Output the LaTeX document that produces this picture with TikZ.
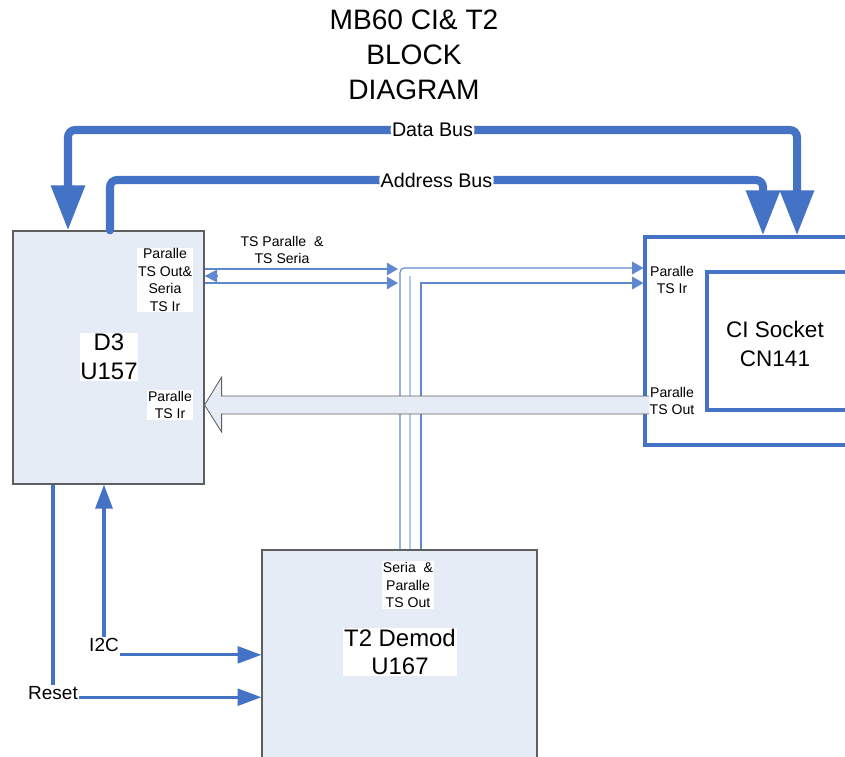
\documentclass[tikz,border=0pt]{standalone}
\usepackage{fontspec}
\setmainfont{Liberation Sans}
\usetikzlibrary{arrows.meta,positioning}
\definecolor{busblue}{RGB}{68,114,196}
\definecolor{tsblue}{RGB}{96,136,206}
\definecolor{tslight}{RGB}{178,200,236}
\definecolor{boxfill}{RGB}{230,236,246}
\definecolor{boxline}{RGB}{95,95,95}

\begin{document}
\begin{tikzpicture}[x=0.025cm, y=-0.025cm,
    chip/.style={draw=boxline, fill=boxfill, line width=0.8pt, rectangle, inner sep=0pt},
    slot/.style={draw=busblue, line width=2.2pt, rectangle, inner sep=0pt},
    bus/.style={busblue, line width=5.7pt, rounded corners=5pt, line cap=round},
    bustip/.style={-{Triangle[length=32pt,width=23pt]}},
    buslabel/.style={fill=white, text=black, inner sep=1pt, font=\fontsize{14}{16}\selectfont},
    sig/.style={busblue, line width=2.2pt},
    sigtip/.style={-{Triangle[length=17pt,width=12pt]}},
    siglabel/.style={inner sep=1pt, font=\fontsize{13.5}{16}\selectfont},
    ts/.style={tsblue, line width=0.8pt},
    tsl/.style={tslight, line width=1.2pt},
    tstip/.style={-{Triangle[length=8pt,width=9pt]}},
    lbl/.style={fill=white, inner sep=0.6pt, align=center, font=\fontsize{10}{12.5}\selectfont},
    bigname/.style={fill=white, inner sep=0.6pt, align=center, font=\fontsize{17}{20.5}\selectfont}]
    \useasboundingbox (0,0) rectangle (845,756);

    % title
    \node[align=center, font=\fontsize{20}{25}\selectfont] (title) at (414,55) {MB60 CI\& T2\\BLOCK\\DIAGRAM};

    % blocks
    \node[chip, minimum width=4.775cm, minimum height=6.325cm] (d3) at (108.5,357.5) {};
    \node[slot, minimum width=5.625cm, minimum height=5.2cm] (ci) at (757.5,341) {};
    \node[slot, minimum width=4.075cm, minimum height=3.45cm] (cisock) at (788.5,341) {};
    \node[chip, minimum width=6.875cm, minimum height=5.75cm] (demod) at (399.5,665) {};

    % TS lines between D3, CI and T2
    \coordinate (tsa) at (398,269);
    \coordinate (tsb) at (398,283);
    \coordinate (tsm) at (217,276);
    \coordinate (jo) at (400,268);
    \coordinate (jm) at (410,276);
    \coordinate (ji) at (421,283);
    \draw[ts,tstip] (d3.east |- tsa) -- (tsa);
    \draw[ts,tstip] (d3.east |- tsb) -- (tsb);
    \draw[ts,{Triangle[length=9pt,width=9pt]}-] (d3.east |- tsm) -- (tsm);
    \draw[tsl] (demod.north -| jm) -- (jm);
    \draw[ts,rounded corners=3pt,tstip] (demod.north -| jo) |- (ci.west |- jo);
    \draw[ts,tstip] (demod.north -| ji) |- (ci.west |- ji);

    % parallel TS back to D3
    \coordinate (tip) at (d3.east |- 0,405);
    \draw[draw=boxline, fill=boxfill, line width=0.6pt] (tip) -- ++(17,-28) -- ++(0,19) -- ++(428,0)
        -- ++(0,18) -- ++(-428,0) -- ++(0,18) -- cycle;

    % buses
    \coordinate (dbl) at (68,130);
    \coordinate (dbr) at (797,130);
    \coordinate (abl) at (110,180);
    \coordinate (abr) at (763,180);
    \draw[bus,{Triangle[length=32pt,width=23pt]}-{Triangle[length=32pt,width=23pt]}]
        (d3.north -| dbl) -- (dbl) -- node[buslabel] {Data Bus} (dbr) -- (ci.north -| dbr);
    \draw[bus,bustip] (d3.north -| abl) -- (abl) -- node[buslabel] {Address Bus} (abr) -- (ci.north -| abr);

    % control signals
    \node[siglabel] (i2c) at (104,645) {I2C};
    \node[siglabel] (reset) at (53,693) {Reset};
    \coordinate (i2cout) at ([yshift=-7pt]i2c.east);
    \coordinate (rstout) at ([yshift=-3pt]reset.east);
    \draw[sig,sigtip] (i2c.north) -- (i2c.north |- d3.south);
    \draw[sig,sigtip] (i2cout) -- (i2cout -| demod.west);
    \draw[sig] (d3.south -| reset.north) -- (reset.north);
    \draw[sig,sigtip] (rstout) -- (rstout -| demod.west);

    % texts
    \node[bigname] (d3name) at (109,357) {D3\\U157};
    \node[lbl] (d3out) at (165,280) {Paralle\\TS Out\&\\Seria\\TS Ir};
    \node[lbl] (d3in) at (170,405) {Paralle\\TS Ir};
    \node[lbl] (tsbus) at (282,250) {TS Paralle \ \&\\TS Seria};
    \node[lbl] (ciin) at (672,280) {Paralle\\TS Ir};
    \node[lbl] (ciout) at (672,401) {Paralle\\TS Out};
    \node[align=center, font=\fontsize{16}{20}\selectfont] (ciname) at (775,344) {CI Socket\\CN141};
    \node[lbl] (demodout) at (408,585) {Seria \ \&\\Paralle\\TS Out};
    \node[bigname] (demodname) at (400,652) {T2 Demod\\U167};
\end{tikzpicture}
\end{document}
